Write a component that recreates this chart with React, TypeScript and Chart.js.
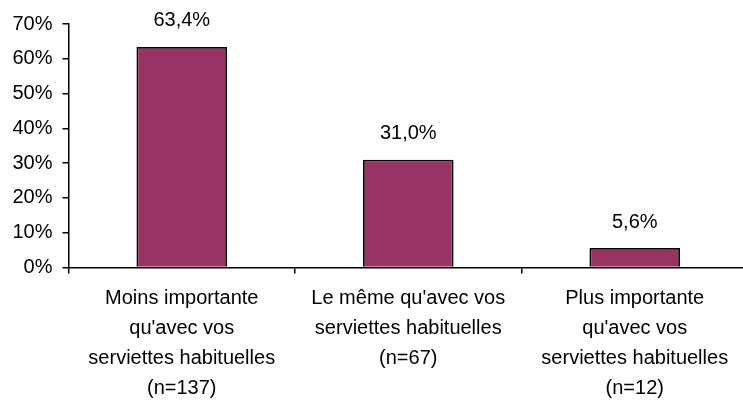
import React, { useEffect, useRef } from "react";
import { Chart, registerables } from "chart.js";

Chart.register(...registerables);

const categories: string[][] = [
  ["Moins importante", "qu'avec vos", "serviettes habituelles", "(n=137)"],
  ["Le même qu'avec vos", "serviettes habituelles", "(n=67)"],
  ["Plus importante", "qu'avec vos", "serviettes habituelles", "(n=12)"],
];
const values: number[] = [63.4, 31.0, 5.6];
const yTicks: number[] = [0, 10, 20, 30, 40, 50, 60, 70];

const FONT = "'Liberation Sans', Arial, sans-serif";

const fmt = (v: number) => v.toFixed(1).replace(".", ",") + "%";

const valueLabels = {
  id: "valueLabels",
  afterDatasetsDraw(chart: any) {
    const ctx = chart.ctx;
    const meta = chart.getDatasetMeta(0);
    ctx.save();
    ctx.font = `20px ${FONT}`;
    ctx.fillStyle = "#000";
    ctx.textAlign = "center";
    ctx.textBaseline = "middle";
    meta.data.forEach((el: any, i: number) => {
      ctx.fillText(fmt(values[i]), el.x, el.y - 26);
    });
    ctx.restore();
  },
};

export default function App() {
  const ref = useRef<HTMLCanvasElement>(null);
  useEffect(() => {
    document.body.style.margin = "0";
    const chart = new Chart(ref.current as HTMLCanvasElement, {
      type: "bar",
      data: {
        labels: categories,
        datasets: [
          {
            data: values,
            backgroundColor: "#993366",
            borderColor: "#000000",
            borderWidth: 1.8,
            barPercentage: 0.4,
            categoryPercentage: 1,
          },
        ],
      },
      options: {
        animation: false,
        responsive: false,
        layout: { padding: { top: 24, left: 0, right: 0, bottom: 0 } },
        plugins: { legend: { display: false }, tooltip: { enabled: false } },
        scales: {
          x: {
            offset: true,
            grid: {
              offset: true,
              drawOnChartArea: false,
              drawTicks: true,
              tickLength: 6,
              color: "#000",
              lineWidth: 1.5,
            },
            border: { display: true, color: "#000", width: 1.5 },
            ticks: {
              color: "#000",
              font: { family: FONT, size: 20, lineHeight: 1.5 },
              padding: 10,
              maxRotation: 0,
              autoSkip: false,
            },
            afterFit(scale: any) {
              scale.height = 132.5;
            },
          },
          y: {
            min: 0,
            max: 70,
            afterBuildTicks(scale: any) {
              scale.ticks = yTicks.map((v) => ({ value: v }));
            },
            grid: {
              drawOnChartArea: false,
              drawTicks: true,
              tickLength: 6,
              color: "#000",
              lineWidth: 1.5,
            },
            border: { display: true, color: "#000", width: 1.5 },
            ticks: {
              color: "#000",
              font: { family: FONT, size: 20 },
              padding: 10,
              callback: (v: any) => v + "%",
            },
            afterFit(scale: any) {
              scale.width = 68.5;
            },
          },
        },
      },
      plugins: [valueLabels],
    });
    return () => chart.destroy();
  }, []);
  return (
    <div
      style={{
        position: "absolute",
        left: 0,
        top: 0,
        width: 743,
        height: 400,
        overflow: "hidden",
        background: "#fff",
      }}
    >
      <canvas ref={ref} width={748} height={400} style={{ display: "block" }} />
    </div>
  );
}
